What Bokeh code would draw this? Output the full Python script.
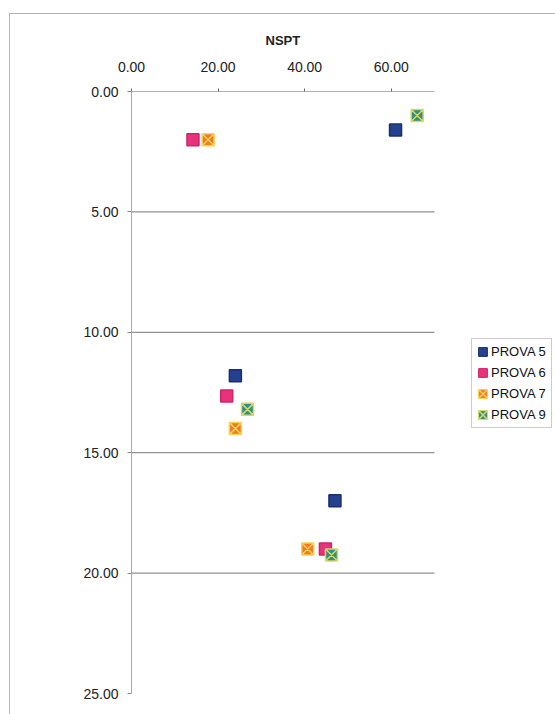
from bokeh.plotting import figure
from bokeh.models import (ColumnDataSource, Legend, LegendItem, FixedTicker,
                          CustomJSTickFormatter, Range1d, Title)
from bokeh.embed import file_html
from bokeh.resources import INLINE

# NSPT blow counts against depth for each sounding
series_names = ["PROVA 5", "PROVA 6", "PROVA 7", "PROVA 9"]
prova5_nspt = [61.0, 24.0, 47.0]
prova5_depth = [1.6, 11.8, 17.0]
prova6_nspt = [14.2, 22.0, 44.8]
prova6_depth = [2.0, 12.65, 19.0]
prova7_nspt = [17.7, 24.0, 40.7]
prova7_depth = [2.0, 14.0, 19.0]
prova9_nspt = [66.0, 26.8, 46.2]
prova9_depth = [1.0, 13.2, 19.25]

x_ticks = [0, 20, 40, 60]
y_ticks = [0, 5, 10, 15, 20, 25]
grid_depths = [5, 10, 15, 20]
NSPT_MAX = 70      # end of the NSPT axis
DEPTH_MAX = 25     # end of the depth axis

FONT = "Liberation Sans"

# plot area px per NSPT unit; the frame runs on past the axis end so the
# legend can sit to the right of the plotted region
PX_PER_UNIT = 303 / NSPT_MAX
FRAME_W = 425

# the chart area sits inside a thin grey border, offset from the page corner
p = figure(width=546, height=701, output_backend="svg", toolbar_location=None,
           x_axis_location="above",
           x_range=Range1d(0, FRAME_W / PX_PER_UNIT), y_range=Range1d(DEPTH_MAX, 0),
           min_border_left=121, min_border_right=0, min_border_top=77,
           min_border_bottom=22)
p.margin = (13, 0, 0, 9)
p.styles = {"border-left": "1px solid #b4b4b4", "border-top": "1px solid #b4b4b4"}
p.outline_line_color = None
p.background_fill_color = "white"
p.border_fill_color = "white"

fmt = CustomJSTickFormatter(code="return tick.toFixed(2);")

xa = p.xaxis[0]
xa.ticker = FixedTicker(ticks=x_ticks)
xa.formatter = fmt
xa.major_label_text_font = FONT
xa.major_label_text_font_size = "14px"
xa.major_label_text_color = "#222222"
xa.major_label_standoff = 17
xa.axis_line_color = None
xa.major_tick_line_color = "#666666"
xa.major_tick_out = 3
xa.major_tick_in = 0
xa.minor_tick_line_color = None

ya = p.yaxis[0]
ya.ticker = FixedTicker(ticks=y_ticks)
ya.formatter = fmt
ya.major_label_text_font = FONT
ya.major_label_text_font_size = "14px"
ya.major_label_text_color = "#222222"
ya.major_label_standoff = 9
ya.axis_line_color = "#aaaaaa"
ya.major_tick_line_color = "#888888"
ya.major_tick_out = 4
ya.major_tick_in = 0
ya.minor_tick_line_color = None

p.xgrid.grid_line_color = None
p.ygrid.grid_line_color = None

# axis title, centred over the plotted NSPT span
p.add_layout(Title(text="NSPT", align="left", offset=134, standoff=22,
                   text_font=FONT, text_font_style="bold", text_font_size="13px",
                   text_color="#222222"), "above")

# top axis line and horizontal depth gridlines, limited to the NSPT span
p.segment(x0=[0], y0=[0], x1=[NSPT_MAX], y1=[0], line_color="#666666", line_width=1)
p.segment(x0=[0] * len(grid_depths), y0=grid_depths,
          x1=[NSPT_MAX] * len(grid_depths), y1=grid_depths,
          line_color="#777777", line_width=1)

styles = [
    dict(marker="square", fill_color="#24408e", line_color="#1a2f6e"),
    dict(marker="square", fill_color="#e8327c", line_color="#d02468"),
    dict(marker="square_x", fill_color="#f07a2c", line_color="#f7d24a"),
    dict(marker="square_x", fill_color="#2f8f86", line_color="#d8d860"),
]
data = [(prova5_nspt, prova5_depth), (prova6_nspt, prova6_depth),
        (prova7_nspt, prova7_depth), (prova9_nspt, prova9_depth)]

items = []
for name, (xs, ys), st in zip(series_names, data, styles):
    src = ColumnDataSource(dict(x=xs, y=ys))
    p.scatter("x", "y", source=src, size=12, line_width=1.5, **st)
    # zero-size rects on the same points: they only supply a full-size legend swatch
    hatch = "diagonal_cross" if st["marker"] == "square_x" else None
    key = p.rect("x", "y", source=src, width=0, height=0,
                 fill_color=st["fill_color"], line_color=st["line_color"], line_width=1,
                 hatch_pattern=hatch, hatch_color=st["line_color"],
                 hatch_scale=11, hatch_weight=1.5)
    items.append(LegendItem(label=name, renderers=[key]))

legend = Legend(items=items, location=(340, 265), orientation="vertical",
                label_text_font=FONT, label_text_font_size="13px",
                label_text_color="#111111",
                glyph_width=11, glyph_height=11, label_height=12,
                spacing=6, padding=5, margin=0, label_standoff=3,
                border_line_color="#999999", background_fill_color="white")
p.add_layout(legend, "center")

open("out.html", "w").write(file_html(p, INLINE))
